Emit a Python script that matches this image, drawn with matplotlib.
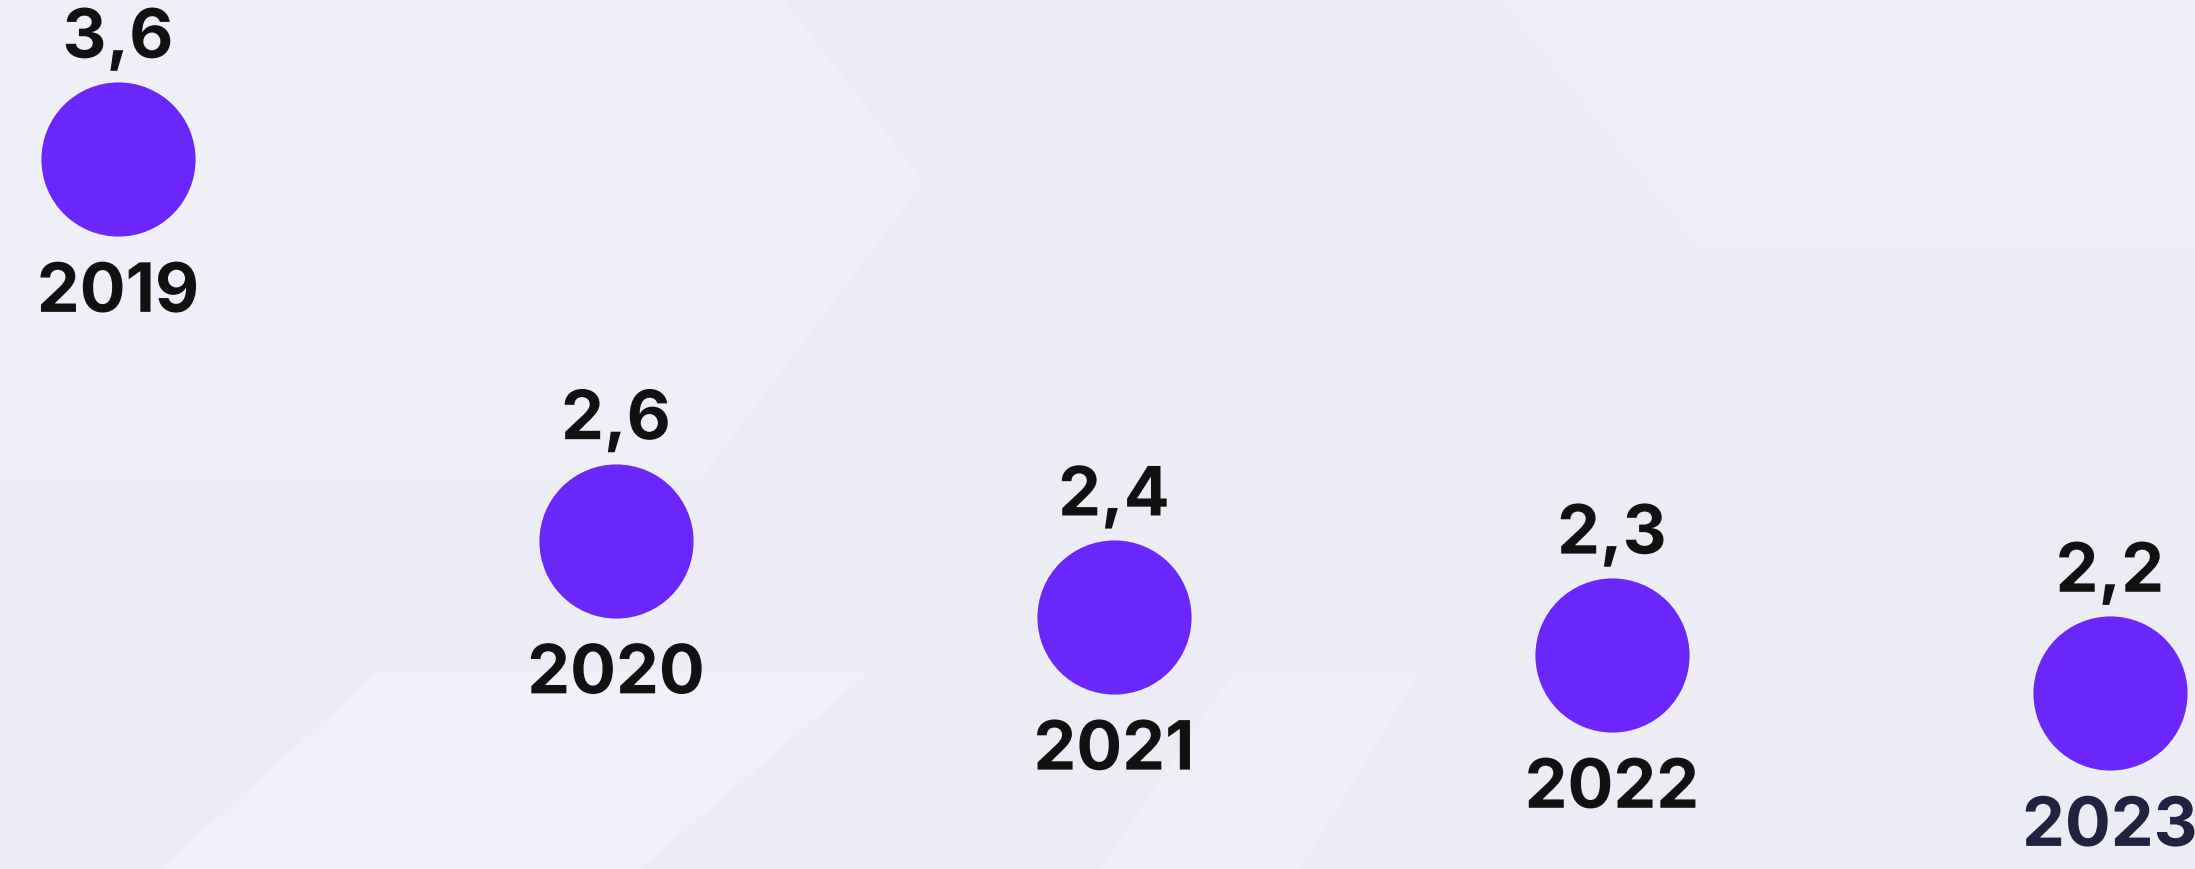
import numpy as np
import matplotlib.pyplot as plt
import matplotlib.patheffects as pe
from matplotlib.patches import Polygon

# data
years = [2019, 2020, 2021, 2022, 2023]
values = [3.6, 2.6, 2.4, 2.3, 2.2]
value_labels = ["3,6", "2,6", "2,4", "2,3", "2,2"]
year_colors = ["#111111", "#111111", "#111111", "#111111", "#1f2341"]

W, H = 2195, 869
fig = plt.figure(figsize=(W / 100, H / 100), dpi=100)
fig.patch.set_facecolor("#ecedf4")

# faint chevron shapes in the background (pure decoration, pixel coords)
bg = fig.add_axes([0, 0, 1, 1])
bg.set_xlim(0, W)
bg.set_ylim(H, 0)
bg.axis("off")
shapes = [
    ([(0, 0), (784, 0), (924, 182), (700, 480), (0, 480)], "#eff0f7"),
    ([(1500, 0), (2195, 0), (2195, 250), (1700, 250)], "#eeeff6"),
    ([(378, 672), (870, 672), (640, 869), (160, 869)], "#f0f1f8"),
    ([(1234, 672), (1420, 672), (1300, 869), (1100, 869)], "#eff0f7"),
]
for pts, c in shapes:
    bg.add_patch(Polygon(pts, closed=True, facecolor=c, lw=0))

# the chart itself
ax = fig.add_axes([0, 0, 1, 1], facecolor="none")
ax.plot(years, values, "o", ms=111, color="#6b26fc", mec="#6b26fc", mew=0)
ax.set_xlim(2018.763, 2023.171)
ax.set_ylim(1.739, 4.017)
ax.axis("off")

# draw glyphs as paths, big bitmap glyphs came out garbled
font = dict(family=["Inter", "DejaVu Sans"], fontsize=49, fontweight="bold",
            path_effects=[pe.Normal()])
for yr, v, lab, yc in zip(years, values, value_labels, year_colors):
    ax.annotate(lab, (yr, v), xytext=(0, 73), textcoords="offset points",
                ha="center", va="baseline", color="#111111", **font)
    ax.annotate(str(yr), (yr, v), xytext=(0, -74), textcoords="offset points",
                ha="center", va="top", color=yc, **font)

fig.savefig("out.png", dpi=100)
